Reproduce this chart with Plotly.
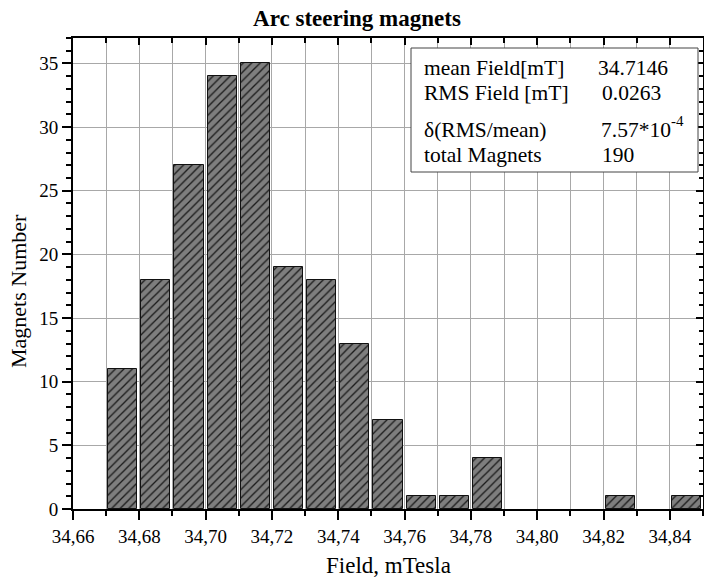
import plotly.graph_objects as go

# ---- data ----
bin_left = [34.67, 34.68, 34.69, 34.70, 34.71, 34.72, 34.73, 34.74, 34.75,
            34.76, 34.77, 34.78, 34.79, 34.80, 34.81, 34.82, 34.83, 34.84]
counts = [11, 18, 27, 34, 35, 19, 18, 13, 7, 1, 1, 4, 0, 0, 0, 1, 0, 1]
bin_width = 0.01

x_tickvals = [34.66, 34.68, 34.70, 34.72, 34.74, 34.76, 34.78, 34.80, 34.82, 34.84]
x_ticktext = ["34,66", "34,68", "34,70", "34,72", "34,74", "34,76", "34,78", "34,80", "34,82", "34,84"]
y_tickvals = [0, 5, 10, 15, 20, 25, 30, 35]

stats_labels = ["mean Field[mT]", "RMS Field [mT]", "δ(RMS/mean)", "total Magnets"]
stats_values = ["34.7146", "0.0263", "7.57*10", "190"]
stats_exp = "-4"

FONT = "Liberation Serif, Times New Roman, serif"

# plot area in pixels
L, R, T, B = 73, 703, 38, 509
W, H = R - L, B - T


def px_x(p):
    return (p - L) / W


def px_y(p):
    return (B - p) / H


centers = [b + bin_width / 2 for b in bin_left]
line_widths = [1 if c > 0 else 0 for c in counts]

fig = go.Figure()
fig.add_trace(go.Bar(
    x=centers, y=counts, width=0.0088,
    marker=dict(
        color="#7c7c7c",
        line=dict(color="#111111", width=line_widths),
        pattern=dict(shape="/", fgcolor="#1a1a1a", bgcolor="#7e7e7e",
                     size=6, solidity=0.22, fillmode="replace"),
    ),
    hoverinfo="x+y", showlegend=False,
))
# invisible trace for mirrored (inside-tick) axes
fig.add_trace(go.Scatter(x=[34.66], y=[0], xaxis="x2", yaxis="y2",
                         mode="markers", marker=dict(opacity=0),
                         hoverinfo="skip", showlegend=False))

axis_common = dict(showline=True, linecolor="black", linewidth=2,
                   tickcolor="black", zeroline=False)

fig.update_layout(
    width=704, height=579,
    margin=dict(l=L, r=704 - R, t=T, b=579 - B),
    paper_bgcolor="white", plot_bgcolor="white",
    font=dict(family=FONT, color="black"),
    bargap=0,
    title=dict(text="<b>Arc steering magnets</b>", x=357 / 704, xanchor="center",
               y=1 - 18 / 579, yanchor="middle",
               font=dict(family=FONT, size=23, color="black")),
    xaxis=dict(range=[34.66, 34.85], tickvals=x_tickvals, ticktext=x_ticktext,
               ticks="outside", ticklen=9, tickwidth=2,
               tickfont=dict(family=FONT, size=19),
               showgrid=True, gridcolor="#a8a8a8", gridwidth=1,
               minor=dict(dtick=0.01, tick0=34.66, ticks="outside", ticklen=5,
                          tickwidth=1.5, tickcolor="black",
                          showgrid=True, gridcolor="#a8a8a8", gridwidth=1),
               **axis_common),
    yaxis=dict(range=[0, 37], tickvals=y_tickvals,
               ticks="outside", ticklen=9, tickwidth=2,
               tickfont=dict(family=FONT, size=19),
               showgrid=True, gridcolor="#a8a8a8", gridwidth=1,
               minor=dict(dtick=1, tick0=0, ticks="outside", ticklen=5,
                          tickwidth=1.5, tickcolor="black", showgrid=False),
               **axis_common),
    xaxis2=dict(range=[34.66, 34.85], overlaying="x", side="top",
                tickvals=x_tickvals, showticklabels=False,
                ticks="inside", ticklen=7, tickwidth=2, showgrid=False,
                minor=dict(dtick=0.01, tick0=34.66, ticks="inside", ticklen=5,
                           tickwidth=1.5, tickcolor="black"),
                **axis_common),
    yaxis2=dict(range=[0, 37], overlaying="y", side="right",
                tickvals=y_tickvals, showticklabels=False,
                ticks="inside", ticklen=7, tickwidth=2, showgrid=False,
                minor=dict(dtick=1, tick0=0, ticks="inside", ticklen=4,
                           tickwidth=1.5, tickcolor="black"),
                **axis_common),
)

# axis titles
fig.add_annotation(text="Field, mTesla", xref="paper", yref="paper",
                   x=0.5, y=0, yshift=-(565 - B), xanchor="center", yanchor="middle",
                   showarrow=False, font=dict(family=FONT, size=23))
fig.add_annotation(text="Magnets Number", xref="paper", yref="paper",
                   x=0, xshift=-(L - 18), y=px_y(291), textangle=-90,
                   xanchor="center", yanchor="middle",
                   showarrow=False, font=dict(family=FONT, size=22))

# stats box
fig.add_shape(type="rect", xref="paper", yref="paper",
              x0=px_x(411), x1=px_x(698), y0=px_y(172), y1=px_y(48),
              fillcolor="white", line=dict(color="#444444", width=1), layer="above")
row_y = [68, 93, 130, 155]
val_x = [596, 600, 599, 600]
for lab, val, ry, vx in zip(stats_labels, stats_values, row_y, val_x):
    fig.add_annotation(text=lab, xref="paper", yref="paper", x=px_x(422), y=px_y(ry),
                       xanchor="left", yanchor="middle", showarrow=False,
                       font=dict(family=FONT, size=21.5))
    fig.add_annotation(text=val, xref="paper", yref="paper", x=px_x(vx), y=px_y(ry),
                       xanchor="left", yanchor="middle", showarrow=False,
                       font=dict(family=FONT, size=21.5))
fig.add_annotation(text=stats_exp, xref="paper", yref="paper", x=px_x(669), y=px_y(121),
                   xanchor="left", yanchor="middle", showarrow=False,
                   font=dict(family=FONT, size=15))

fig.write_html("out.html")
